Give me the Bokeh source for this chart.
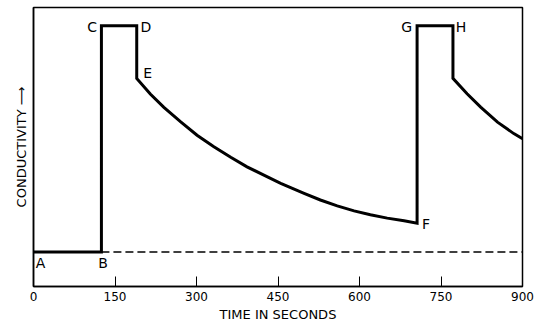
from bokeh.plotting import figure
from bokeh.models import Range1d, FixedTicker, ColumnDataSource
from bokeh.core.properties import value
from bokeh.embed import file_html
from bokeh.resources import INLINE

# Data (time in seconds, conductivity in arbitrary units 0-100)
time_s = [0, 125, 125, 190, 190, 215, 240, 271, 301, 332, 363, 393, 424, 455,
          498, 528, 559, 590, 620, 651, 682, 706, 706, 772, 772, 798, 823, 854,
          884, 900]
conductivity = [12.4, 12.4, 93.5, 93.5, 74.6, 69.0, 64.2, 59.0, 54.2, 50.1,
                46.3, 42.9, 39.9, 37.0, 33.4, 31.0, 28.9, 27.1, 25.7, 24.5,
                23.6, 22.7, 93.5, 93.5, 74.6, 69.1, 64.3, 58.9, 54.8, 53.0]

dash_time = [125, 900]
dash_level = [12.4, 12.4]

point_names = ["A", "B", "C", "D", "E", "F", "G", "H"]
point_time = [4, 119, 117, 197, 202, 715, 697, 777]
point_level = [8.6, 8.6, 92.9, 92.9, 76.7, 22.5, 92.9, 92.9]
point_align = ["left", "left", "right", "left", "left", "left", "right", "left"]

x_ticks = [0, 150, 300, 450, 600, 750, 900]

FONT = "DejaVu Sans"

p = figure(width=537, height=324, output_backend="svg", toolbar_location=None,
           x_range=Range1d(0, 900), y_range=Range1d(0, 100),
           min_border_left=33, min_border_right=15, min_border_top=7,
           min_border_bottom=37)
p.background_fill_color = "white"
p.border_fill_color = "white"
p.outline_line_color = "black"
p.outline_line_width = 1.5
p.grid.visible = False

xa = p.xaxis[0]
xa.ticker = FixedTicker(ticks=x_ticks)
xa.major_tick_in = 10
xa.major_tick_out = 0
xa.minor_tick_line_color = None
xa.major_tick_line_color = "black"
xa.major_tick_line_width = 1
xa.axis_line_color = "black"
xa.axis_line_width = 1.5
xa.major_label_text_font = FONT
xa.major_label_text_font_size = "12px"
xa.major_label_text_color = "black"
xa.major_label_standoff = 5
xa.axis_label = "TIME IN SECONDS"
xa.axis_label_text_font = FONT
xa.axis_label_text_font_size = "13px"
xa.axis_label_text_font_style = "normal"
xa.axis_label_text_color = "black"
xa.axis_label_standoff = 3

ya = p.yaxis[0]
ya.ticker = FixedTicker(ticks=[])
ya.major_tick_line_color = None
ya.minor_tick_line_color = None
ya.major_label_text_color = None
ya.axis_line_color = "black"
ya.axis_line_width = 1.5
ya.axis_label = "CONDUCTIVITY \u27F6"
ya.axis_label_text_font = FONT
ya.axis_label_text_font_size = "13px"
ya.axis_label_text_font_style = "normal"
ya.axis_label_text_color = "black"
ya.axis_label_standoff = 5

p.line(dash_time, dash_level, line_color="black", line_width=1.5,
       line_dash="8 4")
p.line(time_s, conductivity, line_color="black", line_width=3,
       line_join="miter")

src = ColumnDataSource(dict(x=point_time, y=point_level, t=point_names,
                            a=point_align))
p.text(x="x", y="y", text="t", text_align="a", source=src,
       text_baseline="middle", text_font=value(FONT),
       text_font_size="14px", text_color="black")

open("out.html", "w").write(file_html(p, INLINE))
